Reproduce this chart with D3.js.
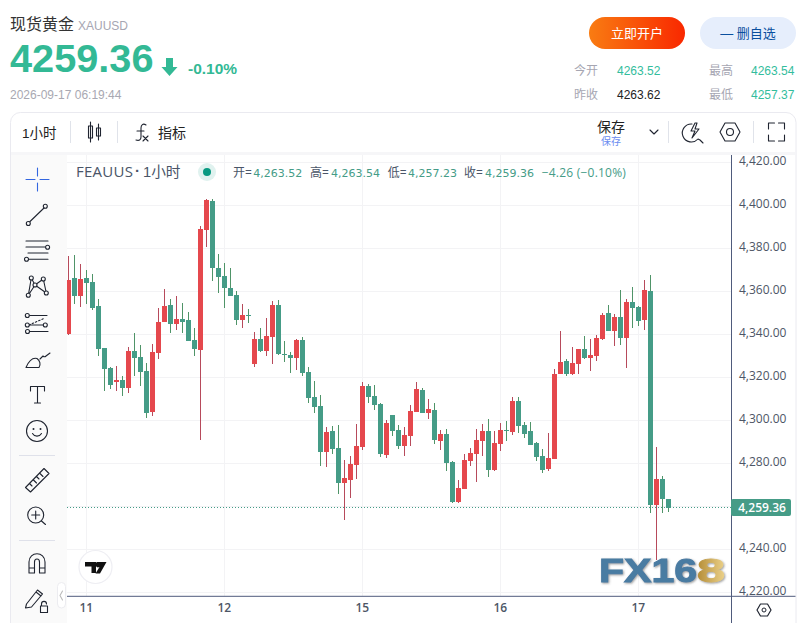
<!DOCTYPE html>
<html lang="zh">
<head>
<meta charset="utf-8">
<script src="https://cdn.jsdelivr.net/npm/d3@7/dist/d3.min.js"></script>
<style>
html,body{margin:0;padding:0;background:#fff;overflow:hidden}
svg{display:block}
text{font-family:"Liberation Sans","Noto Sans CJK SC",sans-serif}
</style>
</head>
<body>
<div id="chart"></div>
<script>
const opens  = [4340.1,4366.2,4357.8,4366.2,4364.3,4353.1,4333.6,4324.3,4317.8,4318.7,4315,4332.2,4329.4,4322.9,4303.8,4331.3,4345.7,4353.6,4344.8,4347.1,4346.6,4337.3,4332.7,4388.5,4402,4370.8,4367.1,4361.5,4358.3,4346.6,4349,4326.2,4337.8,4332.2,4338.7,4353.6,4330.8,4330.4,4329,4337.3,4322.5,4310.8,4306.6,4285.2,4295,4287.1,4270.8,4272.2,4279.2,4287.6,4315.9,4311.3,4307.6,4283.9,4302.5,4295.5,4288,4292.7,4303.9,4314.1,4303.4,4304.8,4290.4,4293.6,4280.6,4262,4268,4281.1,4284.3,4290.4,4295,4276.9,4289,4295.5,4294.6,4309,4297.8,4295,4289.4,4283.4,4277.4,4282,4321.6,4327.6,4321.6,4326.2,4333.2,4329,4329.9,4337.9,4349.9,4341.6,4348.1,4338.3,4355.1,4352.7,4346.7,4360.2,4260.6,4272.7,4263.52];
const highs  = [4376.4,4376.9,4372.7,4369.9,4368,4356.4,4333.6,4324.8,4325.2,4320.6,4334.1,4340.6,4335,4326.6,4335.5,4352.2,4361.1,4356.4,4357.8,4354.5,4350.4,4342.9,4390.4,4402.9,4402.9,4377.3,4373.1,4370.8,4360.1,4354.1,4351.8,4341.1,4342.9,4347.6,4355.5,4355.9,4336.9,4331.8,4337.8,4338.7,4324.8,4318.3,4311.8,4296.9,4297.3,4297.8,4281.5,4283.4,4298.3,4317.8,4316.9,4316.4,4308,4300.1,4302.5,4297.8,4296.9,4307.1,4317.8,4315,4309.9,4308,4295.5,4296,4281.1,4272.2,4284.3,4287.1,4296,4298.3,4300.6,4295,4298.7,4299.7,4310.8,4310.8,4299.2,4299.2,4289.9,4286.7,4294.1,4323.9,4341.6,4328.6,4334.1,4333.2,4339.3,4337.9,4339.7,4349.9,4353.7,4349.5,4360.6,4356.5,4362,4353.2,4365.3,4367.6,4287.6,4274.1,4263.54];
const lows   = [4339.7,4354.1,4352.7,4354.1,4351.3,4329.9,4313.6,4314.5,4313.6,4311.3,4312.7,4320.6,4315.9,4301.1,4302,4328.5,4345.7,4340.6,4342,4340.6,4336.9,4329.9,4290.8,4380.6,4364.8,4359.2,4352.2,4357.8,4344.3,4342.9,4345.2,4324.8,4331.8,4329.9,4326.2,4330.4,4327.1,4322,4323.4,4320.6,4308,4303.4,4278.7,4278.3,4284.3,4265.7,4253.6,4263.9,4272.7,4286.2,4308,4304.8,4282.9,4282.5,4292.7,4286.7,4283.4,4288,4303.9,4303.4,4300.6,4289,4286.2,4276.4,4261.5,4261.5,4268,4278.7,4271.3,4283.4,4273.6,4276.4,4285.7,4290.4,4293.2,4294.1,4291.8,4288.5,4281.1,4275.5,4276.4,4282,4321.6,4320.6,4321.1,4321.6,4328.6,4323,4327.6,4337.4,4341.6,4334.6,4335.1,4324.4,4343,4343.9,4342,4256.9,4235.1,4256.9,4257.23];
const closes = [4365.2,4357.8,4365.7,4363.8,4352.2,4333.1,4323.8,4316.4,4318.7,4315,4332.2,4329,4322.4,4303.4,4331.8,4345.7,4353.1,4344.8,4347.1,4345.7,4336.9,4333.1,4389,4402.4,4370.8,4366.6,4361.5,4357.8,4346.6,4349,4348.7,4337.8,4332.2,4339.2,4353.6,4330.8,4330.4,4329,4337.3,4322,4310.4,4306.2,4285.2,4294.6,4286.6,4270.8,4273.2,4279.7,4288,4315.9,4310.8,4307.1,4284.3,4298.7,4295,4288,4293.2,4304.3,4314.6,4303.4,4305.3,4290.8,4293.6,4280.1,4262,4268.5,4281.5,4284.8,4290.8,4295,4276.9,4289.4,4295.5,4295,4309,4297.4,4293.6,4288.5,4282.9,4276.9,4282.5,4321.5,4327.2,4321.6,4326.7,4333.2,4329,4330.4,4338.3,4349,4341.6,4348.1,4338.3,4355.1,4352.3,4346.2,4360.6,4260.6,4272.7,4263.4,4259.36];
const yTicks = [4220,4240,4260,4280,4300,4320,4340,4360,4380,4400,4420];
const dateLabels = ["11","12","15","16","17"];
const dateIndex  = [3,26,49,72,95];
const lastPrice = 4259.36;
const legendOHLC = [["开=","4,263.52"],["高=","4,263.54"],["低=","4,257.23"],["收=","4,259.36"]];
const legendChange = "−4.26 (−0.10%)";
const statLabels = [["今开","4263.52"],["最高","4263.54"],["昨收","4263.62"],["最低","4257.37"]];

const W=807,H=623;
const GREEN="#459c87",RED="#e5484d",GW="#4f9468",RW="#b74a5b";
const INK="#1f2430",AX="#4f5b7c",TXT="#4d5666";
const svg=d3.select("#chart").append("svg").attr("width",W).attr("height",H).attr("viewBox",`0 0 ${W} ${H}`);
const defs=svg.append("defs");

// panes
svg.append("rect").attr("x",10.5).attr("y",112.5).attr("width",785.5).attr("height",530).attr("rx",10).attr("fill","#fff").attr("stroke","#eaeaf0");
svg.append("rect").attr("x",11).attr("y",152).attr("width",784.5).attr("height",3).attr("fill","#f6f6f8");
svg.append("rect").attr("x",11).attr("y",155).attr("width",56).attr("height",468).attr("fill","#fafafa");

const x=d3.scaleLinear().domain([0,100]).range([68.5,668.5]);
const y=d3.scaleLinear().domain([4220,4420]).range([592.3,162.3]);
const L=67,R=731.5,T=155,B=596.3;

defs.append("clipPath").attr("id","plot").append("rect").attr("x",L).attr("y",T).attr("width",R-L).attr("height",B-T);
const plot=svg.append("g").attr("clip-path","url(#plot)");

plot.selectAll(".hg").data(yTicks).join("line").attr("x1",L).attr("x2",R)
 .attr("y1",d=>Math.floor(y(d))+.5).attr("y2",d=>Math.floor(y(d))+.5).attr("stroke","#f3f3f5");
plot.selectAll(".vg").data(dateIndex).join("line").attr("y1",T).attr("y2",B)
 .attr("x1",d=>x(d)).attr("x2",d=>x(d)).attr("stroke","#f3f3f5");

const idx=d3.range(opens.length);
plot.selectAll(".wick").data(idx).join("rect").attr("shape-rendering","crispEdges")
 .attr("x",i=>x(i)-.5).attr("width",1).attr("y",i=>y(highs[i])).attr("height",i=>y(lows[i])-y(highs[i]))
 .attr("fill",i=>closes[i]>=opens[i]?RW:GW);
plot.selectAll(".body").data(idx).join("rect").attr("shape-rendering","crispEdges")
 .attr("x",i=>x(i)-2.5).attr("width",5)
 .attr("y",i=>y(Math.max(opens[i],closes[i])))
 .attr("height",i=>Math.max(1,Math.abs(y(opens[i])-y(closes[i]))))
 .attr("fill",i=>closes[i]>=opens[i]?RED:GREEN);

plot.append("line").attr("x1",L).attr("x2",R).attr("y1",Math.floor(y(lastPrice))+.5).attr("y2",Math.floor(y(lastPrice))+.5)
 .attr("stroke",GREEN).attr("stroke-dasharray","1 2");

// axes
const CF='"Open Sans","Noto Sans CJK SC",sans-serif';
const yAxis=d3.axisRight(y).tickValues(yTicks).tickSize(0).tickPadding(7.5).tickFormat(d3.format(",.2f"));
const ya=svg.append("g").attr("transform",`translate(${R},0)`).call(yAxis);
ya.select(".domain").remove();
ya.selectAll("text").attr("dy","0.2em").style("font-family",CF).style("font-size","12px").attr("fill",TXT);
ya.selectAll(".tick").filter(d=>d===4260).remove();

const xAxis=d3.axisBottom(x).tickValues(dateIndex).tickSize(0).tickPadding(7.5)
  .tickFormat((d,i)=>dateLabels[i]);
const xa=svg.append("g").attr("transform",`translate(-0.7,${B})`).call(xAxis);
xa.select(".domain").remove();
xa.selectAll("text").style("font-family",CF).style("font-size","12px").style("font-weight","600").attr("fill",TXT);

svg.append("line").attr("x1",R).attr("x2",R).attr("y1",T).attr("y2",H).attr("stroke",AX);
svg.append("line").attr("x1",L).attr("x2",795.5).attr("y1",B).attr("y2",B).attr("stroke",AX);

// last price tag
svg.append("rect").attr("x",731).attr("y",y(lastPrice)-8.7).attr("width",60).attr("height",17).attr("rx",2).attr("fill",GREEN);
svg.append("text").attr("x",762).attr("y",y(lastPrice)+4.2).attr("text-anchor","middle").attr("fill","#fff")
 .style("font-family",CF).style("font-size","12px").style("font-weight","600").text(d3.format(",.2f")(lastPrice));

// text helper
function t(px,py,s,size,fill,opt={}){
  const n=svg.append("text").attr("x",px).attr("y",py).attr("font-size",size).attr("fill",fill).text(s);
  if(opt.w)n.attr("font-weight",opt.w);
  if(opt.a)n.attr("text-anchor",opt.a);
  if(opt.f)n.style("font-family",opt.f);
  if(opt.ls)n.attr("letter-spacing",opt.ls);
  return n;
}
// header
t(10,30,"现货黄金",16,"#333");
t(78,30,"XAUUSD",12,"#a6a6b2");
t(10,72,"4259.36",39.7,"#33b995",{w:700});
svg.append("path").attr("d","M166 58h7v9h4.5l-8 9-8-9H166z").attr("fill","#33b995");
t(188,74,"-0.10%",15.5,"#33b995",{w:700});
t(10,99,"2026-09-17 06:19:44",12,"#a8a8b2");

// buttons
const g=defs.append("linearGradient").attr("id","btn");
g.append("stop").attr("offset","0").attr("stop-color","#f97c12");
g.append("stop").attr("offset","1").attr("stop-color","#f92800");
svg.append("rect").attr("x",589).attr("y",17).attr("width",96).attr("height",32).attr("rx",16).attr("fill","url(#btn)");
t(637,38,"立即开户",13,"#fff",{a:"middle"});
svg.append("rect").attr("x",700).attr("y",17).attr("width",96).attr("height",32).attr("rx",16).attr("fill","#e6eefc");
t(748,38,"— 删自选",13,"#0a4f9e",{a:"middle"});

// stats
[[574,617,75,"#33bd9d"],[709,751,75,"#33bd9d"],[574,617,99,"#222"],[709,751,99,"#33bd9d"]].forEach((c,i)=>{
  t(c[0],c[2],statLabels[i][0],12,"#a6a6b2");
  t(c[1],c[2],statLabels[i][1],12,c[3]);
});

// top toolbar
t(22,138,"1小时",13.5,"#222");
t(158,138,"指标",14,"#222");
t(611,132,"保存",14,"#222",{a:"middle"});
t(611,145,"保存",10,"#6b8cf0",{a:"middle"});
[70,117,668,753].forEach(v=>svg.append("line").attr("x1",v+.5).attr("x2",v+.5).attr("y1",121).attr("y2",143).attr("stroke","#e0e3ea"));
const icon=(d,o={})=>svg.append("path").attr("d",d).attr("fill",o.fill||"none").attr("stroke",o.stroke||INK).attr("stroke-width",o.sw||1.1).attr("stroke-linejoin","round").attr("stroke-linecap","round");
icon("M90.5 122v20M88.5 126h4v12h-4zM98.5 124v16M96.5 128h4v8h-4z");
icon("M146 125c-3-2-5 0-5 3v9c0 3-2 4-5 3M137 131h7M143 136l5 5M148 136l-5 5");
icon("M650 130l4 4 4-4");
icon("M692 124a9 9 0 1 0 6 15l2 1 3 3M695 123l-4 8h4l-3 7 7-9h-4l2-6z");
icon("M720 132l5-9h10l5 9-5 9h-10z");svg.append("circle").attr("cx",730).attr("cy",132).attr("r",3.5).attr("fill","none").attr("stroke",INK).attr("stroke-width",1.1);
icon("M768.5 129v-6h6M778.5 123h6v6M784.5 135v6h-6M774.5 141h-6v-6");

// legend
t(76,177,"FEAUUS",15,"#4a5568",{f:CF,ls:.25});
t(135,176,"·",15,"#4a5568",{w:700});
t(143,177,"1小时",14.7,"#4a5568");
svg.append("circle").attr("cx",207).attr("cy",172).attr("r",9).attr("fill","#e0f2ef");
svg.append("circle").attr("cx",207).attr("cy",172).attr("r",4).attr("fill","#089981");
const LF='"DejaVu Sans","Noto Sans CJK SC",sans-serif';
[[233,253.3],[310,331],[387.7,408],[464,485]].forEach((p,i)=>{
  t(p[0],177,legendOHLC[i][0],12,"#4a5568",{f:CF});
  t(p[1],177,legendOHLC[i][1],11,GREEN,{f:LF});
});
t(541.7,177,legendChange,12,GREEN,{f:CF,ls:.22});

// left toolbar
const lw=INK,bl="#3366e0";
icon("M26 179.5h9M40 179.5h9M37.5 168v8M37.5 183v8",{stroke:bl});
const node=(cx,cy)=>svg.append("circle").attr("cx",cx).attr("cy",cy).attr("r",2).attr("fill","#fafafa").attr("stroke",lw).attr("stroke-width",1.1);
icon("M29.5 222L44 208");node(28.3,223.5);node(45.3,206.3);
icon("M26 241h22M26 247h19M28 253h20M28.5 259.3h19.5");node(47.6,247.3);node(26.5,259.3);
icon("M28.3 295.3L31.3 278L35 285L43.3 279L46.3 293L35 285L28.3 295.3M31.3 278L35 285");node(31.3,278);node(43.3,279);node(28.3,295.3);node(46.3,293);node(35,285);
icon("M29 315.5h18M29 331.5h19");icon("M29 325l16-7",{}).attr("stroke-dasharray","1.5 2");icon("M29 325h15");
node(27.3,315.5);node(27.3,325);node(45.3,325);node(27.5,331.5);
icon("M26 367.5h13c2-3 1-7-2-9-4-1-8 2-11 9zM40 359l3-3c1 1 2 1 3 0l4-3");
icon("M30.5 391v-4.5h14V391M37.5 386.5V403M34.5 403h6");
svg.append("circle").attr("cx",37).attr("cy",431).attr("r",10.5).attr("fill","none").attr("stroke",lw).attr("stroke-width",1.1);
svg.append("circle").attr("cx",33.5).attr("cy",429).attr("r",1).attr("fill",lw);
svg.append("circle").attr("cx",40.5).attr("cy",429).attr("r",1).attr("fill",lw);
icon("M32.5 433.5c2 3.5 7 3.5 9 0");
[455.5,540.5].forEach(v=>svg.append("line").attr("x1",19).attr("x2",55).attr("y1",v).attr("y2",v).attr("stroke","#dfe1ea"));
icon("M25.5 487.5L44 468.5l5 5L30.5 492zM30 484l2 2M33.5 480l3 3M37 477l2 2M40 473.5l3 3");
svg.append("circle").attr("cx",35.7).attr("cy",515).attr("r",8).attr("fill","none").attr("stroke",lw).attr("stroke-width",1.1);
icon("M41.5 521l4 3.5M35.7 511v8M31.7 515h8");
icon("M29 573v-11c0-11 16-11 16 0v11h-5.5v-11c0-4-5-4-5 0v11zM29 568h5.5M39.5 568h5.5");
icon("M26.5 604l11-14 5 4-11 13-6 1zM36 592l5 4");
icon("M40.5 606h7v6.5h-7zM41.5 606v-2c0-3.5 5-3.5 5 0");
svg.append("rect").attr("x",57.5).attr("y",582.5).attr("width",8).attr("height",25.5).attr("rx",4).attr("fill","#fff").attr("stroke","#ececf0");
icon("M62.5 591l-2.5 4.5 2.5 4.5",{stroke:"#bbb"});

// tradingview badge
svg.append("circle").attr("cx",95.5).attr("cy",567).attr("r",16.5).attr("fill","#fff").attr("stroke","#eeeef3").attr("stroke-width",1.2);
svg.append("path").attr("d","M85 562h11v11h-4.5v-6.5H85zM97 562h9.5l-6.5 11.5h-4.5l4-6.5a2.4 2.4 0 0 1-2.5-5z").attr("fill","#111");

// axis settings hexagon
icon("M757 610l3.5-6h7l3.5 6-3.5 6h-7z",{sw:1.2});
svg.append("circle").attr("cx",764).attr("cy",610).attr("r",2).attr("fill","none").attr("stroke",INK);

// logo
const gold=defs.append("linearGradient").attr("id","gold").attr("x1",0).attr("x2",1).attr("y1",0).attr("y2",0);
gold.append("stop").attr("offset","0").attr("stop-color","#b48c36");
gold.append("stop").attr("offset","1").attr("stop-color","#ecd28a");
const shadow=defs.append("filter").attr("id","soft").attr("x","-5%").attr("y","-10%").attr("width","110%").attr("height","125%");
shadow.append("feDropShadow").attr("dx",1).attr("dy",1).attr("stdDeviation",.8).attr("flood-color","#555").attr("flood-opacity",.6);
const lg=svg.append("g").attr("filter","url(#soft)");
lg.append("text").attr("x",599).attr("y",581.7).attr("font-size",34).attr("font-weight",700).attr("textLength",98).attr("lengthAdjust","spacingAndGlyphs").attr("fill","#4a7ba2").attr("stroke","#4a7ba2").attr("stroke-width",1).text("FX16");
lg.append("text").attr("x",697).attr("y",581.7).attr("font-size",34).attr("font-weight",700).attr("textLength",28).attr("lengthAdjust","spacingAndGlyphs").attr("fill","url(#gold)").attr("stroke","url(#gold)").attr("stroke-width",1).text("8");
</script>
</body>
</html>
